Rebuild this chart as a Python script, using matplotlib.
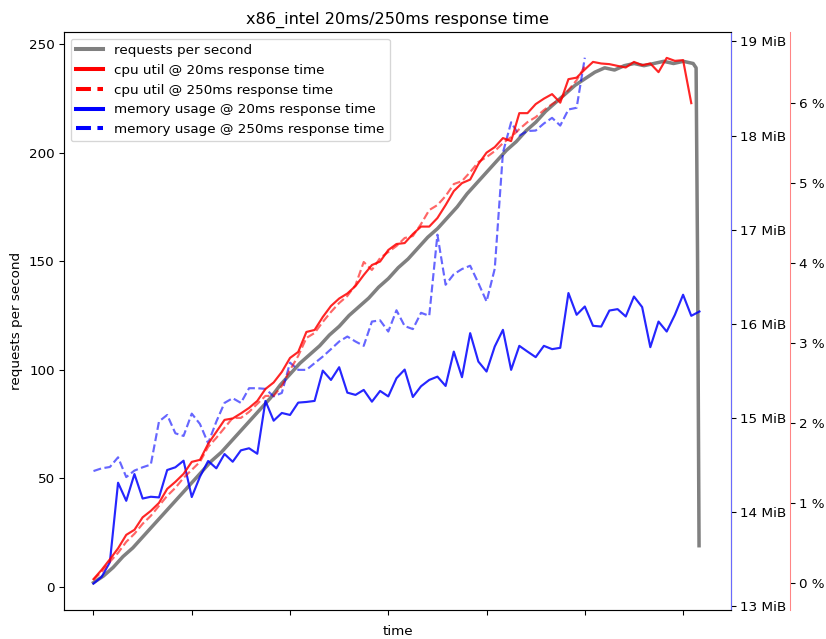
import matplotlib
matplotlib.use("Agg")
import matplotlib.pyplot as plt
from matplotlib.lines import Line2D
from matplotlib.ticker import FuncFormatter
import numpy as np

# requests per second, sampled every 10 s (last points: the drop at the end of the run)
rps_time = [0, 10, 20, 30, 40, 50, 60, 70, 80, 90, 100, 110, 120, 130, 140, 150, 160, 170,
            180, 190, 200, 210, 220, 230, 240, 250, 260, 270, 280, 290, 300, 310, 320, 330,
            340, 350, 360, 370, 380, 390, 400, 410, 420, 430, 440, 450, 460, 470, 480, 490,
            500, 510, 520, 530, 540, 550, 560, 570, 580, 590, 600, 610, 613, 614.5, 616]
rps = [2, 5, 9, 14, 18, 23, 28, 33, 38, 43, 48, 53, 58, 62, 67, 72, 77, 82,
       87, 93, 98, 103, 107, 111, 116, 120, 125, 129, 133, 138, 142, 147, 151, 156,
       161, 165, 170, 175, 181, 186, 191, 196, 201, 205, 210, 214, 219, 223, 227, 231,
       234, 237, 239, 238, 240, 241, 240, 241, 242, 241, 242, 241, 239, 150, 19]

# cpu and memory are sampled every ~8.33 s
SAMPLE_S = 8.33

cpu_20ms = [0.046, 0.163, 0.294, 0.431, 0.600, 0.663, 0.819, 0.900, 1.000, 1.175,
            1.263, 1.363, 1.513, 1.538, 1.738, 1.888, 2.038, 2.056, 2.119, 2.188,
            2.275, 2.425, 2.506, 2.638, 2.813, 2.888, 3.138, 3.163, 3.325, 3.463,
            3.556, 3.619, 3.713, 3.850, 3.975, 4.019, 4.163, 4.238, 4.250, 4.363,
            4.456, 4.456, 4.563, 4.725, 4.900, 5.000, 5.044, 5.238, 5.381, 5.450,
            5.563, 5.525, 5.875, 5.875, 5.988, 6.056, 6.113, 6.006, 6.300, 6.319,
            6.421, 6.516, 6.496, 6.488, 6.466, 6.446, 6.516, 6.475, 6.496, 6.388,
            6.566, 6.529, 6.538, 6.000]

cpu_250ms = [0.038, 0.138, 0.263, 0.375, 0.513, 0.613, 0.738, 0.838, 0.963, 1.088,
             1.188, 1.313, 1.413, 1.513, 1.700, 1.813, 1.938, 2.063, 2.063, 2.138,
             2.238, 2.338, 2.338, 2.463, 2.663, 2.838, 3.063, 3.125, 3.263, 3.388,
             3.500, 3.588, 3.725, 4.013, 3.913, 4.063, 4.138, 4.213, 4.313, 4.338,
             4.488, 4.663, 4.725, 4.838, 4.988, 5.025, 5.138, 5.263, 5.325, 5.400,
             5.500, 5.575, 5.675, 5.763, 5.825, 5.913, 5.988, 6.050, 6.163, 6.288,
             6.463]

mem_20ms = [13.241, 13.312, 13.468, 14.312, 14.120, 14.404, 14.144, 14.163, 14.156, 14.447,
            14.476, 14.546, 14.160, 14.376, 14.543, 14.465, 14.617, 14.535, 14.656, 14.678,
            14.620, 15.181, 14.971, 15.053, 15.032, 15.163, 15.170, 15.181, 15.503, 15.404,
            15.539, 15.269, 15.245, 15.298, 15.173, 15.287, 15.229, 15.422, 15.514, 15.223,
            15.337, 15.404, 15.439, 15.340, 15.705, 15.433, 15.901, 15.599, 15.493, 15.759,
            15.936, 15.511, 15.766, 15.705, 15.646, 15.766, 15.731, 15.745, 16.327, 16.096,
            16.184, 15.979, 15.971, 16.141, 16.156, 16.078, 16.290, 16.178, 15.752, 16.024,
            15.918, 16.096, 16.309, 16.085, 16.131]

mem_250ms = [14.436, 14.465, 14.479, 14.582, 14.372, 14.441, 14.476, 14.505, 14.963, 15.032,
             14.837, 14.809, 15.046, 14.936, 14.731, 14.961, 15.160, 15.210, 15.160, 15.316,
             15.316, 15.309, 15.229, 15.266, 15.588, 15.511, 15.511, 15.582, 15.652, 15.731,
             15.812, 15.865, 15.812, 15.766, 16.024, 16.037, 15.918, 16.144, 15.976, 15.944,
             16.117, 16.085, 16.947, 16.415, 16.527, 16.582, 16.617, 16.433, 16.237, 16.585,
             17.819, 18.141, 18.000, 18.048, 18.053, 18.128, 18.188, 18.106, 18.277, 18.295,
             18.827]

legend_labels = ["requests per second", "cpu util @ 20ms response time",
                 "cpu util @ 250ms response time", "memory usage @ 20ms response time",
                 "memory usage @ 250ms response time"]


def sample_times(vals):
    return np.arange(len(vals)) * SAMPLE_S


DPI = 97
fig = plt.figure(figsize=(826 / DPI, 639 / DPI), dpi=DPI)
ax = fig.add_axes([64 / 826, 1 - 610 / 639, (731 - 64) / 826, (610 - 32) / 639])
ax_mem = ax.twinx()
ax_cpu = ax.twinx()

ax.plot(rps_time, rps, color="gray", lw=2.6)
ax_cpu.plot(sample_times(cpu_20ms), cpu_20ms, color="red", lw=1.6, alpha=0.85)
ax_cpu.plot(sample_times(cpu_250ms), cpu_250ms, color="red", lw=1.6, ls="--", alpha=0.6)
ax_mem.plot(sample_times(mem_20ms), mem_20ms, color="blue", lw=1.6, alpha=0.85)
ax_mem.plot(sample_times(mem_250ms), mem_250ms, color="blue", lw=1.6, ls="--", alpha=0.6)

ax.set_xlim(-30, 648.5)
ax.set_ylim(-10.6, 255.5)
ax_mem.set_ylim(12.96, 19.1)
ax_cpu.set_ylim(-0.34, 6.89)

ax.set_xticks(np.arange(0, 601, 100))
ax.set_xticklabels([])
ax.set_xlabel("time")
ax.set_ylabel("requests per second")
ax.set_title("x86_intel 20ms/250ms response time", fontsize=12)

ax_mem.yaxis.set_major_formatter(FuncFormatter(lambda v, p: f"{v:.0f} MiB"))
ax_mem.spines["right"].set_color("#6a6aff")
ax_cpu.yaxis.set_major_formatter(FuncFormatter(lambda v, p: f"{v:.0f} %"))
ax_cpu.spines["right"].set_position(("axes", 1.088))
ax_cpu.spines["right"].set_color("#ff8585")
for side in ["top", "bottom", "left"]:
    ax_cpu.spines[side].set_visible(False)

handles = [Line2D([], [], color="gray", lw=3),
           Line2D([], [], color="red", lw=3),
           Line2D([], [], color="red", lw=3, ls="--"),
           Line2D([], [], color="blue", lw=3),
           Line2D([], [], color="blue", lw=3, ls="--")]
ax.legend(handles, legend_labels, loc="upper left")

fig.savefig("out.png", dpi=DPI)
